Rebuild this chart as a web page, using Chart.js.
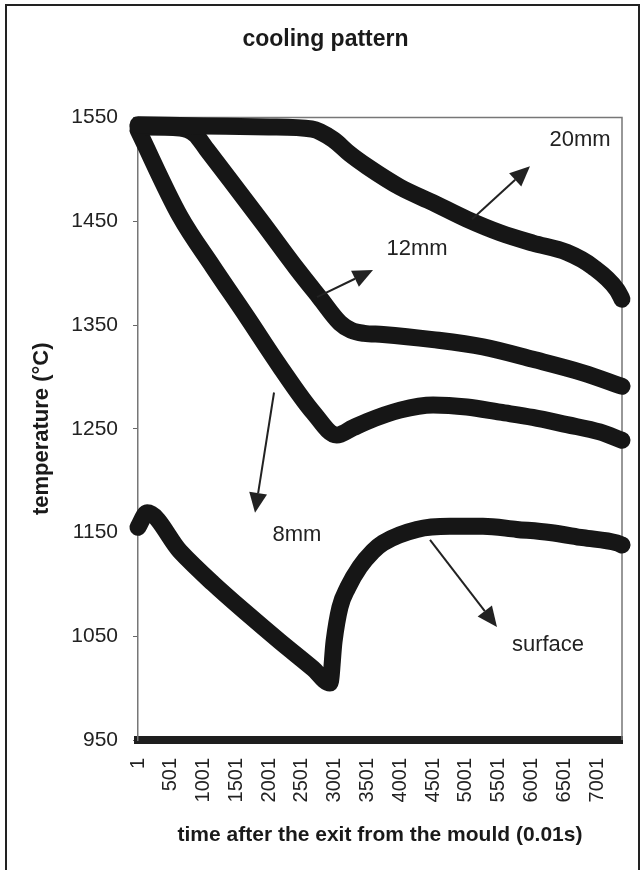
<!DOCTYPE html>
<html>
<head>
<meta charset="utf-8">
<script src="https://cdn.jsdelivr.net/npm/chart.js@4/dist/chart.umd.min.js"></script>
<style>
  html, body { margin: 0; padding: 0; background: #fff; }
  #wrap { width: 641px; height: 870px; position: relative; }
</style>
</head>
<body>
<div id="wrap"><canvas id="cooling"></canvas></div>
<script>
// time after the exit from the mould (0.01s) and temperature (°C)
const xTicks = [1, 501, 1001, 1501, 2001, 2501, 3001, 3501, 4001, 4501, 5001, 5501, 6001, 6501, 7001];
const yTicks = [950, 1050, 1150, 1250, 1350, 1450, 1550];

const time20 = [1, 1000, 2000, 2650, 2974, 3230, 3492, 3995, 4498, 5017, 5520, 6023, 6541, 6938, 7304, 7380];
const temp20 = [1543, 1542, 1541, 1539, 1529, 1515, 1503, 1483, 1468, 1452, 1439, 1429, 1420, 1406, 1384, 1375];

const time12 = [1, 640, 870, 1053, 1404, 1907, 2425, 2776, 3081, 3250, 3450, 3736, 4498, 5261, 6023, 6785, 7380];
const temp12 = [1541, 1540, 1534, 1519, 1490, 1448, 1404, 1376, 1352, 1345, 1342, 1341, 1336, 1329, 1317, 1304, 1291];

const time8 = [1, 640, 1145, 1660, 2165, 2670, 3030, 3280, 3490, 3995, 4500, 5015, 5520, 6020, 6540, 7040, 7380];
const temp8 = [1538, 1455, 1406, 1358, 1310, 1266, 1244, 1251, 1257, 1268, 1273, 1271, 1266, 1261, 1254, 1247, 1239];

const timeSurf = [1, 140, 641, 1144, 1662, 2165, 2668, 2927, 2990, 3080, 3200, 3384, 3583, 3735, 4253, 4756, 5259, 5777, 6280, 6783, 7300, 7380];
const tempSurf = [1155, 1169, 1132, 1101, 1072, 1045, 1019, 1005, 1045, 1078, 1097, 1117, 1132, 1140, 1153, 1156, 1156, 1153, 1150, 1145, 1140, 1138];

// labels and arrows in data units
const noteText = ['20mm', '12mm', '8mm', 'surface'];
const noteAt = [[6740, 1528], [4255, 1423], [2425, 1148], [6252, 1042]];
const arrowFrom = [[5093, 1452], [2730, 1377], [2075, 1285], [4453, 1143]];
const arrowTo = [[5977, 1503], [3584, 1403], [1785, 1169], [5474, 1059]];

const FONT = 'Liberation Sans, Arial, sans-serif';
const INK = '#161616';

function pts(ts, vs) {
  return ts.map((t, i) => ({ x: t, y: vs[i] }));
}

function curve(label, ts, vs) {
  return {
    label: label,
    data: pts(ts, vs),
    borderColor: INK,
    borderWidth: 17,
    borderCapStyle: 'round',
    pointRadius: 0,
    cubicInterpolationMode: 'monotone',
    clip: false,
  };
}

const notes = {
  id: 'notes',
  beforeDatasetsDraw(chart) {
    const { ctx, chartArea: a } = chart;
    ctx.save();
    ctx.strokeStyle = '#777';
    ctx.lineWidth = 1.5;
    ctx.beginPath();
    ctx.moveTo(a.left, a.top);
    ctx.lineTo(a.right, a.top);
    ctx.lineTo(a.right, a.bottom);
    ctx.stroke();
    // outer frame
    ctx.strokeStyle = '#222';
    ctx.lineWidth = 2;
    ctx.beginPath();
    ctx.moveTo(6, 870);
    ctx.lineTo(6, 5);
    ctx.lineTo(639, 5);
    ctx.lineTo(639, 870);
    ctx.stroke();
    ctx.restore();
  },
  afterDatasetsDraw(chart) {
    const { ctx, scales: { x, y } } = chart;
    ctx.save();
    ctx.fillStyle = '#222';
    ctx.font = '22px ' + FONT;
    ctx.textAlign = 'center';
    ctx.textBaseline = 'middle';
    noteText.forEach((txt, i) => {
      ctx.fillText(txt, x.getPixelForValue(noteAt[i][0]), y.getPixelForValue(noteAt[i][1]));
    });
    ctx.strokeStyle = '#222';
    ctx.lineWidth = 2;
    arrowFrom.forEach((f, i) => {
      const x0 = x.getPixelForValue(f[0]), y0 = y.getPixelForValue(f[1]);
      const x1 = x.getPixelForValue(arrowTo[i][0]), y1 = y.getPixelForValue(arrowTo[i][1]);
      const ang = Math.atan2(y1 - y0, x1 - x0);
      const len = 20, half = 9;
      const bx = x1 - len * Math.cos(ang), by = y1 - len * Math.sin(ang);
      ctx.beginPath();
      ctx.moveTo(x0, y0);
      ctx.lineTo(bx, by);
      ctx.stroke();
      ctx.beginPath();
      ctx.moveTo(x1, y1);
      ctx.lineTo(bx + half * Math.sin(ang), by - half * Math.cos(ang));
      ctx.lineTo(bx - half * Math.sin(ang), by + half * Math.cos(ang));
      ctx.closePath();
      ctx.fill();
    });
    ctx.restore();
  }
};

new Chart(document.getElementById('cooling'), {
  type: 'line',
  data: {
    datasets: [
      curve('20mm', time20, temp20),
      curve('12mm', time12, temp12),
      curve('8mm', time8, temp8),
      curve('surface', timeSurf, tempSurf),
    ],
  },
  options: {
    responsive: true,
    maintainAspectRatio: false,
    animation: false,
    layout: { padding: { left: 29, right: 19, top: 0, bottom: 22 } },
    plugins: {
      legend: { display: false },
      tooltip: { enabled: false },
      title: {
        display: true,
        text: 'cooling pattern',
        color: '#1a1a1a',
        font: { family: FONT, size: 23, weight: 'bold' },
        padding: { top: 26, bottom: 64 },
      },
    },
    scales: {
      x: {
        type: 'linear',
        min: 1,
        max: 7380,
        afterBuildTicks: s => { s.ticks = xTicks.map(v => ({ value: v })); },
        afterFit: s => { s.height = 108; s.paddingLeft = 0; s.paddingRight = 0; },
        grid: { display: false, drawTicks: false },
        border: { display: true, color: '#1e1e1e', width: 8 },
        ticks: {
          color: '#222',
          font: { family: FONT, size: 20 },
          minRotation: 90,
          maxRotation: 90,
          padding: 18,
          autoSkip: false,
          callback: v => String(v),
        },
        title: {
          display: true,
          text: 'time after the exit from the mould (0.01s)',
          color: '#1a1a1a',
          font: { family: FONT, size: 21, weight: 'bold' },
          padding: 0,
        },
      },
      y: {
        min: 950,
        max: 1550,
        afterBuildTicks: s => { s.ticks = yTicks.map(v => ({ value: v })); },
        afterFit: s => { s.width = 109; },
        grid: { drawOnChartArea: false, drawTicks: true, tickLength: 5, color: '#666' },
        border: { display: true, color: '#777', width: 1.5 },
        ticks: {
          color: '#222',
          font: { family: FONT, size: 21 },
          padding: 15,
          callback: v => String(v),
        },
        title: {
          display: true,
          text: 'temperature (°C)',
          color: '#1a1a1a',
          font: { family: FONT, size: 22, weight: 'bold' },
          padding: 0,
        },
      },
    },
  },
  plugins: [notes],
});
</script>
</body>
</html>
